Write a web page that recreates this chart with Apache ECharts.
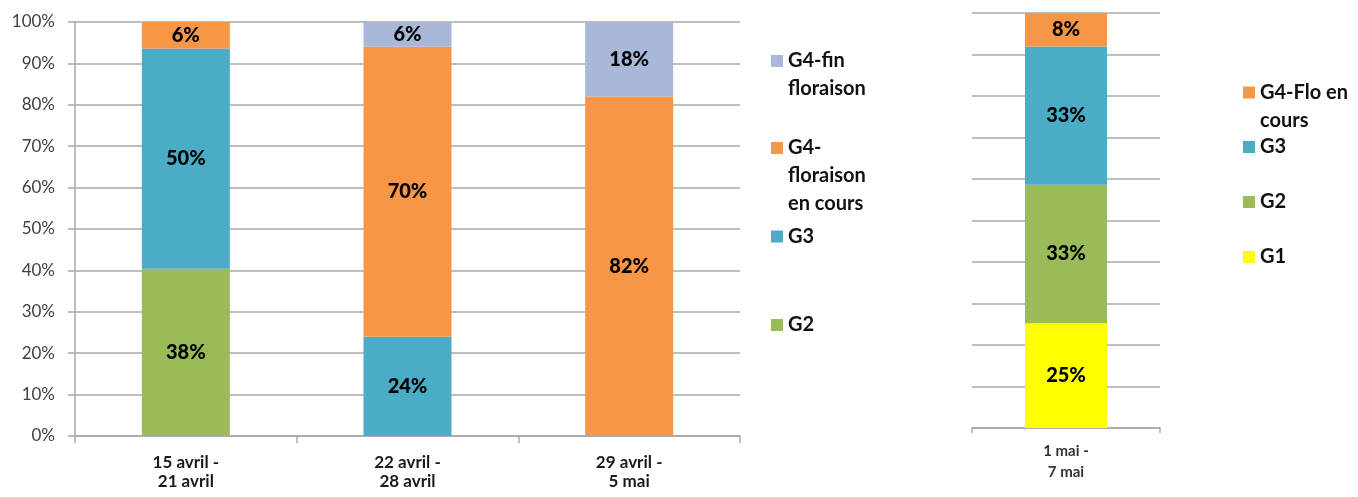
<!DOCTYPE html>
<html>
<head>
<meta charset="utf-8">
<script src="https://cdn.jsdelivr.net/npm/echarts@6/dist/echarts.min.js"></script>
<style>
html,body{margin:0;padding:0;background:#fff;}
#chart{width:1358px;height:497px;}
</style>
</head>
<body>
<div id="chart"></div>
<script>
// ---- Data (raw values as labelled in the picture) ----
var categoriesA = ['15 avril -\n21 avril', '22 avril -\n28 avril', '29 avril -\n5 mai'];
var seriesA_G2 = [38, 0, 0];
var seriesA_G3 = [50, 24, 0];
var seriesA_G4cours = [6, 70, 82];
var seriesA_G4fin = [0, 6, 18];

var categoriesB = ['1 mai -\n7 mai'];
var seriesB_G1 = [25];
var seriesB_G2 = [33];
var seriesB_G3 = [33];
var seriesB_G4flo = [8];

var yTicks = [0, 10, 20, 30, 40, 50, 60, 70, 80, 90, 100];

var namesA = ['G2', 'G3', 'G4-floraison en cours', 'G4-fin floraison'];
var namesB = ['G1', 'G2', 'G3', 'G4-Flo en cours'];
var legendWrapped = {
  'G4-fin floraison': 'G4-fin\nfloraison',
  'G4-floraison en cours': 'G4-\nfloraison\nen cours',
  'G3': 'G3',
  'G2': 'G2',
  'G1': 'G1',
  'G4-Flo en cours': 'G4-Flo en\ncours'
};

var colors = {
  'G1': '#FFFF00',
  'G2': '#9BBB59',
  'G3': '#4BACC6',
  'G4-floraison en cours': '#F79646',
  'G4-Flo en cours': '#F79646',
  'G4-fin floraison': '#A9B8D9'
};

// ---- percent stacking (100% stacked chart) ----
function percentStack(list) {
  var n = list[0].length;
  var out = list.map(function () { return []; });
  for (var i = 0; i < n; i++) {
    var s = 0;
    list.forEach(function (a) { s += a[i]; });
    list.forEach(function (a, k) { out[k].push(s ? a[i] / s * 100 : 0); });
  }
  return out;
}
var rawA = [seriesA_G2, seriesA_G3, seriesA_G4cours, seriesA_G4fin];
var rawB = [seriesB_G1, seriesB_G2, seriesB_G3, seriesB_G4flo];
var pctA = percentStack(rawA);
var pctB = percentStack(rawB);

var FONT = 'Lato';
var gridColor = '#A8A8A8';

function makeSeries(names, raw, pct, axisIdx, stack, barWidth) {
  return names.map(function (nm, k) {
    return {
      name: nm,
      type: 'bar',
      stack: stack,
      xAxisIndex: axisIdx,
      yAxisIndex: axisIdx,
      barWidth: barWidth,
      data: pct[k],
      itemStyle: { color: colors[nm] },
      emphasis: { disabled: true },
      label: {
        show: true,
        position: 'inside',
        color: '#000',
        fontFamily: FONT,
        fontWeight: 900,
        fontSize: 20,
        formatter: function (p) {
          var v = raw[k][p.dataIndex];
          return v ? v + '%' : '';
        }
      }
    };
  });
}

// legend helper: one legend per item, icon aligned with first text line
// (leading empty lines keep the first real line level with the icon)
var LH = 28;
function legendItem(name, left, firstLineCenter) {
  var txt = legendWrapped[name];
  var n = txt.split('\n').length;
  var lead = new Array(n).join('\n');
  return {
    show: true,
    data: [name],
    orient: 'vertical',
    left: left,
    top: firstLineCenter - (2 * n - 1) * LH / 2,
    padding: 0,
    itemWidth: 12,
    itemHeight: 12,
    itemGap: 0,
    icon: 'rect',
    selectedMode: false,
    formatter: function (nm) { return lead + legendWrapped[nm]; },
    textStyle: {
      fontFamily: FONT,
      fontWeight: 'bold',
      fontSize: 20,
      color: '#111',
      lineHeight: LH
    }
  };
}

var legends = [
  legendItem('G4-fin floraison', 771, 61),
  legendItem('G4-floraison en cours', 771, 148),
  legendItem('G3', 771, 236.5),
  legendItem('G2', 771, 325),
  legendItem('G4-Flo en cours', 1243, 92.5),
  legendItem('G3', 1243, 147),
  legendItem('G2', 1243, 202),
  legendItem('G1', 1243, 257)
];

var option = {
  backgroundColor: '#fff',
  animation: false,
  textStyle: { fontFamily: FONT },
  legend: legends,
  grid: [
    { left: 75, top: 22, width: 665, height: 414, containLabel: false },
    { left: 972, top: 13, width: 188, height: 415, containLabel: false }
  ],
  xAxis: [
    {
      type: 'category',
      gridIndex: 0,
      data: categoriesA,
      axisLine: { show: true, lineStyle: { color: gridColor, width: 1.5 } },
      axisTick: { show: true, length: 7, lineStyle: { color: gridColor, width: 1.5 } },
      axisLabel: {
        margin: 17,
        fontFamily: FONT,
        fontWeight: 'bold',
        fontSize: 17,
        lineHeight: 19,
        color: '#1a1a1a'
      },
      splitLine: { show: false }
    },
    {
      type: 'category',
      gridIndex: 1,
      data: categoriesB,
      axisLine: { show: true, lineStyle: { color: gridColor, width: 1.5 } },
      axisTick: { show: true, length: 5, lineStyle: { color: gridColor, width: 1.5 } },
      axisLabel: {
        margin: 13,
        fontFamily: FONT,
        fontWeight: 'bold',
        fontSize: 15,
        lineHeight: 21,
        color: '#333'
      },
      splitLine: { show: false }
    }
  ],
  yAxis: [
    {
      type: 'value',
      gridIndex: 0,
      min: yTicks[0],
      max: yTicks[yTicks.length - 1],
      interval: 10,
      axisLine: { show: true, lineStyle: { color: gridColor, width: 1.5 } },
      axisTick: { show: true, length: 7, lineStyle: { color: gridColor, width: 1.5 } },
      axisLabel: {
        margin: 20,
        fontFamily: FONT,
        fontSize: 17,
        color: '#404040',
        formatter: '{value}%'
      },
      splitLine: { show: true, lineStyle: { color: gridColor, width: 1.5 } }
    },
    {
      type: 'value',
      gridIndex: 1,
      min: yTicks[0],
      max: yTicks[yTicks.length - 1],
      interval: 10,
      axisLine: { show: false },
      axisTick: { show: false },
      axisLabel: { show: false },
      splitLine: { show: true, lineStyle: { color: gridColor, width: 1.5 } }
    }
  ],
  series: makeSeries(namesA, rawA, pctA, 0, 'a', 88)
    .concat(makeSeries(namesB, rawB, pctB, 1, 'b', 82))
};

var chart = echarts.init(document.getElementById('chart'), null, { renderer: 'canvas' });
chart.setOption(option);
</script>
</body>
</html>
